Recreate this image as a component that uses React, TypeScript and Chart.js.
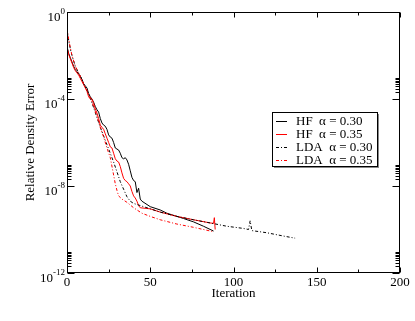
import React, { useEffect, useRef } from "react";
import { Chart, registerables } from "chart.js";

Chart.register(...registerables);

// ---- data ----
const hf30Iter = [0, 1, 2, 3, 4, 5, 6, 7, 8, 9, 10, 11, 12, 13, 14, 15, 16, 17, 18, 19, 20, 21, 22, 23, 24, 25, 26, 27, 28, 29, 30, 31, 32, 33, 34, 35, 36, 37, 38, 39, 40, 41, 42, 43, 44, 45, 50, 56, 60, 66, 70, 76, 82, 88];
const hf30Err = [2.5e-2, 1.26e-2, 7.9e-3, 5.0e-3, 3.2e-3, 2.24e-3, 1.78e-3, 1.41e-3, 1.12e-3, 7.9e-4, 5.0e-4, 4.0e-4, 3.2e-4, 1.78e-4, 1.26e-4, 1.0e-4, 7.1e-5, 4.5e-5, 3.2e-5, 2.5e-5, 1.26e-5, 7.9e-6, 6.3e-6, 5.6e-6, 4.0e-6, 2.24e-6, 1.78e-6, 1.58e-6, 1.0e-6, 5.6e-7, 5.0e-7, 4.5e-7, 3.2e-7, 2.0e-7, 1.78e-7, 2.0e-7, 1.58e-7, 1.0e-7, 5.0e-8, 2.5e-8, 1.78e-8, 1.58e-8, 5.0e-9, 7.9e-9, 2.5e-9, 2.0e-9, 1.12e-9, 7.9e-10, 5.6e-10, 4.0e-10, 3.2e-10, 2.24e-10, 1.41e-10, 8.5e-11];

const hf35Iter = [0, 1, 2, 3, 4, 5, 6, 7, 8, 9, 10, 11, 12, 13, 14, 15, 16, 17, 18, 19, 20, 21, 22, 23, 24, 25, 26, 27, 28, 29, 30, 31, 32, 33, 34, 35, 36, 37, 38, 39, 40, 41, 42, 43, 44, 50, 56, 66, 76, 86, 88, 88.5, 89];
const hf35Err = [2.5e-2, 1.12e-2, 7.1e-3, 4.5e-3, 2.8e-3, 2.0e-3, 1.58e-3, 1.26e-3, 8.9e-4, 6.3e-4, 4.5e-4, 3.2e-4, 2.24e-4, 1.26e-4, 1.0e-4, 1.0e-4, 6.3e-5, 3.5e-5, 2.24e-5, 1.26e-5, 6.3e-6, 5.0e-6, 4.0e-6, 2.5e-6, 1.58e-6, 1.0e-6, 6.3e-7, 5.6e-7, 3.2e-7, 1.78e-7, 1.41e-7, 1.26e-7, 7.9e-8, 4.0e-8, 2.24e-8, 1.78e-8, 1.58e-8, 1.26e-8, 1.0e-8, 5.6e-9, 3.5e-9, 2.8e-9, 2.0e-9, 1.26e-9, 1.0e-9, 8.9e-10, 6.3e-10, 4.0e-10, 2.8e-10, 2.0e-10, 1.9e-10, 3.5e-10, 1.0e-10];

const lda30Iter = [0, 1, 2, 3, 4, 5, 6, 7, 8, 9, 10, 12, 14, 16, 18, 20, 22, 24, 26, 28, 30, 32, 34, 36, 38, 40, 44, 50, 56, 66, 76, 86, 96, 106, 109, 110, 111, 120, 130, 137];
const lda30Err = [1.58e-1, 5.0e-2, 2.0e-2, 1.0e-2, 5.6e-3, 3.2e-3, 2.24e-3, 1.58e-3, 1.12e-3, 7.9e-4, 5.0e-4, 2.5e-4, 1.12e-4, 4.0e-5, 1.41e-5, 5.0e-6, 2.0e-6, 7.9e-7, 3.2e-7, 1.26e-7, 4.5e-8, 1.58e-8, 7.1e-9, 3.2e-9, 2.0e-9, 1.58e-9, 1.26e-9, 8.9e-10, 6.3e-10, 4.0e-10, 2.8e-10, 2.0e-10, 1.41e-10, 1.12e-10, 1.0e-10, 2.5e-10, 8.9e-11, 7.1e-11, 5.0e-11, 4.0e-11];

const lda35Iter = [0, 1, 2, 3, 4, 5, 6, 7, 8, 9, 10, 12, 14, 16, 18, 20, 22, 24, 26, 28, 29, 30, 31, 33, 36, 40, 45, 50, 56, 66, 76, 88];
const lda35Err = [1.78e-1, 5.6e-2, 2.24e-2, 1.0e-2, 5.6e-3, 3.2e-3, 2.24e-3, 1.58e-3, 1.12e-3, 7.9e-4, 5.0e-4, 2.5e-4, 1.12e-4, 4.5e-5, 1.58e-5, 5.0e-6, 1.78e-6, 5.6e-7, 2.0e-7, 3.2e-8, 1.26e-8, 6.3e-9, 3.5e-9, 2.5e-9, 1.78e-9, 1.0e-9, 5.6e-10, 4.0e-10, 2.8e-10, 1.78e-10, 1.26e-10, 7.9e-11];

const seriesLabels = ["HF  \u03b1 = 0.30", "HF  \u03b1 = 0.35", "LDA  \u03b1 = 0.30", "LDA  \u03b1 = 0.35"];
const seriesColors = ["#000000", "#ff0000", "#000000", "#ff0000"];
const seriesDashes: number[][] = [[], [], [3, 2, 1, 2], [3, 2, 1, 2]];

const xMajorTicks = [0, 50, 100, 150, 200];
const xMinorTicks = [25, 75, 125, 175];
const yMajorExps = [0, -4, -8, -12];
const yMinorExps = [-4, -8, -12];
const yMinorMult = [2, 3, 4, 5, 6, 7, 8, 9];
const xTitle = "Iteration";
const yTitle = "Relative Density Error";

const FONT = '"Liberation Serif", "Times New Roman", serif';

const pts = (xs: number[], ys: number[]) => xs.map((x, i) => ({ x, y: ys[i] }));

const decorPlugin = {
  id: "decor",
  afterDatasetsDraw(chart: any) {
    const { ctx, chartArea: a, scales } = chart;
    const xs = scales.x;
    const ys = scales.y;
    const L = Math.round(a.left) + 0.5;
    const R = Math.round(a.right) - 0.5;
    const T = Math.round(a.top) + 0.5;
    const B = Math.round(a.bottom) - 0.5;
    ctx.save();
    ctx.strokeStyle = "#000";
    ctx.lineWidth = 1;
    ctx.setLineDash([]);
    ctx.strokeRect(L, T, R - L, B - T);

    const xt = (v: number, len: number) => {
      const px = Math.round(xs.getPixelForValue(v)) + 0.5;
      ctx.beginPath();
      ctx.moveTo(px, B);
      ctx.lineTo(px, B - len);
      ctx.moveTo(px, T);
      ctx.lineTo(px, T + len);
      ctx.stroke();
    };
    xMajorTicks.forEach((v) => xt(v, 5));
    xMinorTicks.forEach((v) => xt(v, 3));

    const yt = (v: number, len: number) => {
      const py = Math.round(ys.getPixelForValue(v)) + 0.5;
      ctx.beginPath();
      ctx.moveTo(L, py);
      ctx.lineTo(L + len, py);
      ctx.moveTo(R, py);
      ctx.lineTo(R - len, py);
      ctx.stroke();
    };
    yMajorExps.forEach((e) => yt(Math.pow(10, e), 7));
    yMinorExps.forEach((e) => yMinorMult.forEach((k) => yt(k * Math.pow(10, e), 4)));

    ctx.fillStyle = "#000";
    ctx.font = `13px ${FONT}`;
    ctx.textAlign = "center";
    ctx.textBaseline = "alphabetic";
    xMajorTicks.forEach((v) => {
      ctx.fillText(String(v), xs.getPixelForValue(v), a.bottom + 13);
    });
    ctx.fillText(xTitle, (a.left + a.right) / 2, a.bottom + 24);

    // y labels: "10" with superscript exponent
    for (let i = 0; i < yMajorExps.length; i++) {
      const e = yMajorExps[i];
      const py = ys.getPixelForValue(Math.pow(10, e));
      const sup = e === 0 ? "0" : "-" + String(-e);
      ctx.font = `13px ${FONT}`;
      const w1 = ctx.measureText("10").width;
      ctx.font = `9px ${FONT}`;
      const w2 = ctx.measureText(sup).width;
      const right = a.left - 2;
      const x0 = right - w2 - w1;
      ctx.textAlign = "left";
      ctx.textBaseline = "alphabetic";
      ctx.font = `13px ${FONT}`;
      ctx.fillText("10", x0, py + 9);
      ctx.font = `9px ${FONT}`;
      ctx.fillText(sup, x0 + w1, py + 2);
    }

    ctx.save();
    ctx.translate(34, (a.top + a.bottom) / 2);
    ctx.rotate(-Math.PI / 2);
    ctx.font = `13px ${FONT}`;
    ctx.textAlign = "center";
    ctx.textBaseline = "alphabetic";
    ctx.fillText(yTitle, 0, 0);
    ctx.restore();

    // legend
    ctx.font = `13px ${FONT}`;
    const bx = 272.5;
    const by = 112.5;
    const rowH = 13;
    let maxW = 0;
    seriesLabels.forEach((s) => (maxW = Math.max(maxW, ctx.measureText(s).width)));
    const bw = Math.round(296 - 272 + maxW + 4);
    const bh = rowH * 4 + 2;
    ctx.fillStyle = "#888";
    ctx.fillRect(bx + 1.5, by + 1.5, bw, bh);
    ctx.fillStyle = "#fff";
    ctx.fillRect(bx, by, bw, bh);
    ctx.strokeStyle = "#000";
    ctx.strokeRect(bx, by, bw, bh);
    seriesLabels.forEach((s, i) => {
      const cy = by + 8 + i * rowH;
      ctx.strokeStyle = seriesColors[i];
      ctx.setLineDash(seriesDashes[i]);
      ctx.beginPath();
      ctx.moveTo(276, Math.round(cy) + 0.5);
      ctx.lineTo(287, Math.round(cy) + 0.5);
      ctx.stroke();
      ctx.setLineDash([]);
      ctx.fillStyle = "#000";
      ctx.textAlign = "left";
      ctx.textBaseline = "middle";
      ctx.fillText(s, 296, cy + 1);
    });
    ctx.restore();
  },
};

export default function App() {
  const ref = useRef<HTMLCanvasElement | null>(null);
  useEffect(() => {
    if (!ref.current) return;
    const data = [
      pts(hf30Iter, hf30Err),
      pts(hf35Iter, hf35Err),
      pts(lda30Iter, lda30Err),
      pts(lda35Iter, lda35Err),
    ];
    const order = [3, 2, 1, 0];
    const chart = new Chart(ref.current, {
      type: "scatter",
      data: {
        datasets: order.map((i) => ({
          label: seriesLabels[i],
          data: data[i],
          showLine: true,
          borderColor: seriesColors[i],
          backgroundColor: seriesColors[i],
          borderWidth: 1,
          borderDash: seriesDashes[i],
          pointRadius: 0,
          tension: 0,
        })),
      },
      options: {
        animation: false,
        responsive: false,
        devicePixelRatio: 1,
        layout: { padding: { left: 67, top: 12, right: 15, bottom: 48 } },
        plugins: { legend: { display: false }, tooltip: { enabled: false } },
        scales: {
          x: { type: "linear", min: 0, max: 200, display: false },
          y: { type: "logarithmic", min: 1e-12, max: 1, display: false },
        },
      },
      plugins: [decorPlugin],
    });
    return () => chart.destroy();
  }, []);
  return (
    <div style={{ position: "fixed", left: 0, top: 0, width: 415, height: 321, background: "#fff" }}>
      <canvas ref={ref} width={415} height={321} style={{ display: "block" }} />
    </div>
  );
}
